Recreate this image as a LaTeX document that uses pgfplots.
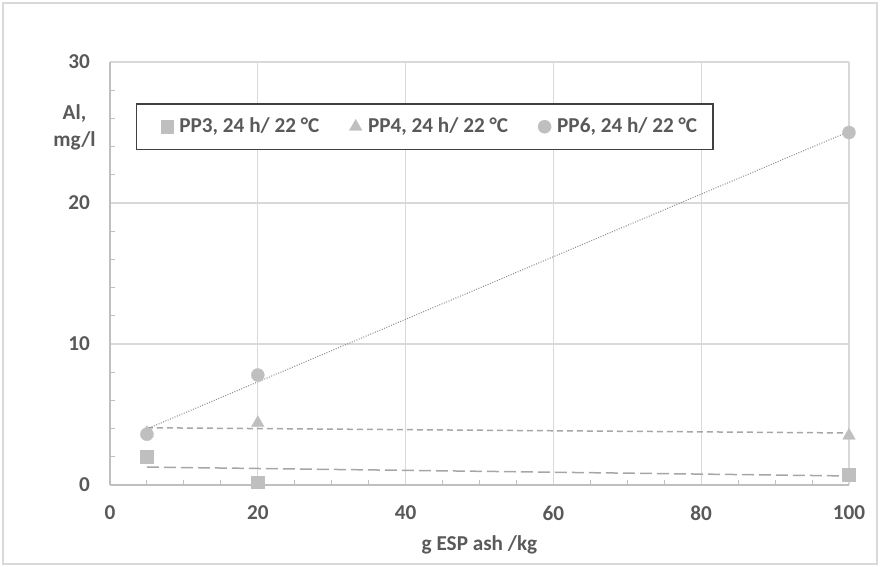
\documentclass[border=0pt]{standalone}
\usepackage{fontspec}
\setmainfont{Carlito}
\usepackage{pgfplots}
\pgfplotsset{compat=1.18}
\definecolor{txt}{HTML}{595959}
\definecolor{grd}{HTML}{D9D9D9}
\definecolor{mk}{HTML}{BFBFBF}
\definecolor{tl}{HTML}{A6A6A6}
\definecolor{tld}{HTML}{8C8C8C}
\definecolor{lgb}{HTML}{404040}
\newcommand{\cf}{\fontsize{10.6}{13.5}\selectfont\bfseries}
\begin{document}
\begin{tikzpicture}
\begin{axis}[
  name=ax,
  scale only axis, width=369.5pt, height=211.5pt,
  xmin=0, xmax=100, ymin=0, ymax=30,
  xtick={0,20,40,60,80,100}, ytick={0,10,20,30},
  minor x tick num=3, minor y tick num=4,
  axis lines=left,
  axis line style={draw=mk, -, line width=0.6pt},
  grid=major, major grid style={draw=grd, line width=0.6pt},
  tick align=inside, major tick length=0pt, minor tick length=2.3pt,
  minor tick style={draw=mk, line width=0.5pt},
  tick label style={font=\cf, text=txt},
  /pgf/number format/assume math mode=true,
  xticklabel style={yshift=-7pt},
  yticklabel style={xshift=-6.5pt},
  xlabel={g ESP ash /kg},
  xlabel style={at={(axis description cs:0.5,0)}, anchor=center, yshift=-30pt, font=\cf, text=txt},
  legend style={at={(rel axis cs:0.035,0.903)}, anchor=north west,
    draw=lgb, line width=0.75pt, fill=white, font=\cf, text=txt,
    inner xsep=12pt, inner ysep=5pt,
    /tikz/every even column/.append style={column sep=13pt},
    /tikz/every odd column/.append style={column sep=1pt}},
  legend columns=3,
  legend cell align=left,
  legend image code/.code={\draw[#1] plot coordinates {(0pt,0pt)};},
  clip=false,
]
% trendlines
\addplot[forget plot, draw=tl, line width=0.75pt, dash pattern=on 6pt off 2.5pt] coordinates {(5,1.27) (100,0.64)};
\addplot[forget plot, draw=tl, line width=0.75pt, dash pattern=on 3pt off 2pt] coordinates {(5,4.06) (100,3.69)};
\addplot[forget plot, draw=tld, line width=0.5pt, dash pattern=on 0.5pt off 0.75pt] coordinates {(5,3.98) (100,25.07)};
% data
\addplot[only marks, color=mk, line width=0.1pt, mark=square*, mark size=3.2pt] coordinates {(5,1.99) (20,0.21) (100,0.71)};
\addlegendentry{PP3, 24 h/ 22 °C}
\addplot[only marks, color=mk, line width=0.1pt, mark=triangle*, mark size=3.7pt] coordinates {(5,3.7) (20,4.4) (100,3.5)};
\addlegendentry{PP4, 24 h/ 22 °C}
\addplot[only marks, color=mk, line width=0.1pt, mark=*, mark size=3.3pt] coordinates {(5,3.6) (20,7.8) (100,25.0)};
\addlegendentry{PP6, 24 h/ 22 °C\hspace*{-6pt}}
\node[align=center, anchor=east, font=\cf, text=txt, inner sep=0pt] at (rel axis cs:0,0.846) [xshift=-7pt] {Al,\\mg/l};
\end{axis}
\useasboundingbox ([shift={(-55pt,-41pt)}]ax.south west) rectangle ([shift={(385pt,242.5pt)}]ax.south west);
\draw[grd, line width=0.75pt] ([shift={(-53.5pt,-39.5pt)}]ax.south west) rectangle ([shift={(383.5pt,241pt)}]ax.south west);
\end{tikzpicture}
\end{document}
